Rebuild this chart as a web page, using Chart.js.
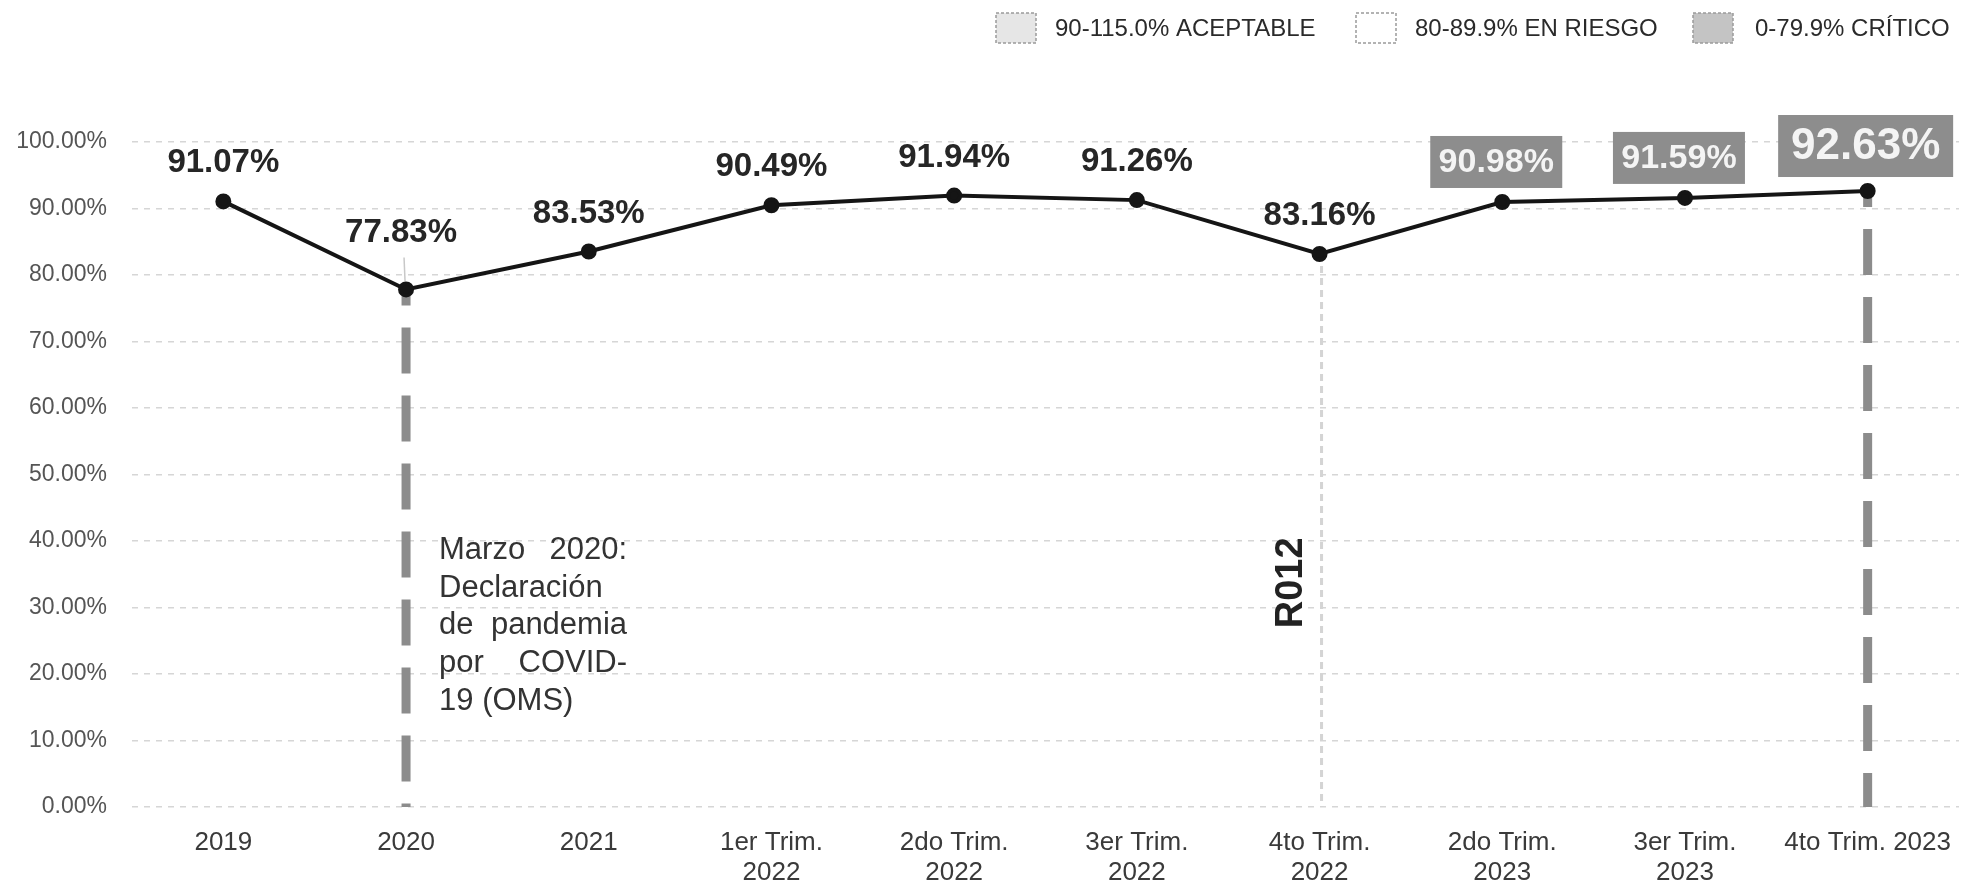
<!DOCTYPE html>
<html>
<head>
<meta charset="utf-8">
<script src="https://cdn.jsdelivr.net/npm/chart.js@4.4.1/dist/chart.umd.min.js"></script>
<style>
  html, body { margin: 0; padding: 0; background: #ffffff; overflow: hidden; }
  #wrap { width: 1969px; height: 885px; position: relative; }
  #c { display: block; }
</style>
</head>
<body>
<div id="wrap"><canvas id="c"></canvas></div>
<script>
// ---- data ----
const categories = [
  '2019', '2020', '2021',
  ['1er Trim.', '2022'], ['2do Trim.', '2022'], ['3er Trim.', '2022'], ['4to Trim.', '2022'],
  ['2do Trim.', '2023'], ['3er Trim.', '2023'], '4to Trim. 2023'
];
const values = [91.07, 77.83, 83.53, 90.49, 91.94, 91.26, 83.16, 90.98, 91.59, 92.63];
const yTicks = [0, 10, 20, 30, 40, 50, 60, 70, 80, 90, 100];
const legendLabels = ['90-115.0% ACEPTABLE', '80-89.9% EN RIESGO', '0-79.9% CRÍTICO'];
const annotationLines = ['Marzo 2020:', 'Declaración', 'de pandemia', 'por COVID-', '19 (OMS)'];
const markerLabel = 'R012';

const SANS = "'Liberation Sans', Arial, Helvetica, sans-serif";

const overlay = {
  id: 'overlay',
  beforeDatasetsDraw(chart) {
    const ctx = chart.ctx;
    const ys = chart.scales.y;
    const meta = chart.getDatasetMeta(0);
    const bottom = ys.getPixelForValue(0);
    ctx.save();
    // faint line at 4to Trim. 2022
    const p6 = meta.data[6];
    ctx.strokeStyle = '#d4d4d4';
    ctx.lineWidth = 3;
    ctx.setLineDash([7, 5]);
    ctx.beginPath(); ctx.moveTo(p6.x + 2, p6.y); ctx.lineTo(p6.x + 2, bottom); ctx.stroke();
    // thick dashed lines at 2020 and 4to Trim. 2023
    [1, 9].forEach(i => {
      const p = meta.data[i];
      ctx.strokeStyle = '#8c8c8c';
      ctx.lineWidth = 9;
      ctx.setLineDash([46, 22]);
      ctx.lineDashOffset = 30;
      ctx.beginPath(); ctx.moveTo(p.x, p.y); ctx.lineTo(p.x, bottom); ctx.stroke();
    });
    ctx.setLineDash([]);
    // leader line for 2020 label
    const p1 = meta.data[1];
    ctx.strokeStyle = '#c8c8c8'; ctx.lineWidth = 1.5;
    ctx.beginPath(); ctx.moveTo(p1.x - 2, p1.y - 32); ctx.lineTo(p1.x - 1, p1.y - 8); ctx.stroke();
    ctx.restore();
  },
  afterDatasetsDraw(chart) {
    const ctx = chart.ctx;
    const ys = chart.scales.y;
    const meta = chart.getDatasetMeta(0);
    ctx.save();
    ctx.textAlign = 'center';
    ctx.textBaseline = 'middle';
    values.forEach((v, i) => {
      const p = meta.data[i];
      const txt = v.toFixed(2) + '%';
      if (i >= 7) {
        const big = (i === 9);
        const w = big ? 175 : 132;
        const h = big ? 62 : 52;
        const cx = p.x - (big ? 2 : 6);
        const cy = p.y - (big ? 45 : 40);
        ctx.fillStyle = '#8d8d8d';
        ctx.fillRect(cx - w / 2, cy - h / 2, w, h);
        ctx.fillStyle = '#f4f4f4';
        ctx.font = 'bold ' + (big ? 44 : 34) + 'px ' + SANS;
        ctx.fillText(txt, cx, cy + 1);
      } else {
        ctx.fillStyle = '#262626';
        ctx.font = 'bold 33px ' + SANS;
        const off = (i === 1) ? 57 : 38;
        ctx.fillText(txt, p.x - (i === 1 ? 5 : 0), p.y - off);
      }
    });

    // annotation (justified block)
    const p1 = meta.data[1];
    const ax = p1.x + 33, aw = 188;
    let ay = ys.getPixelForValue(38.6);
    ctx.font = '31px ' + SANS;
    ctx.fillStyle = '#333333';
    ctx.textAlign = 'left';
    annotationLines.forEach((line, li) => {
      const words = line.split(' ');
      if (li < annotationLines.length - 1 && words.length > 1) {
        const tw = words.reduce((s, w) => s + ctx.measureText(w).width, 0);
        const gap = Math.max(8, (aw - tw) / (words.length - 1));
        let x = ax;
        words.forEach(w => { ctx.fillText(w, x, ay); x += ctx.measureText(w).width + gap; });
      } else {
        ctx.fillText(line, ax, ay);
      }
      ay += 37.7;
    });

    // R012 rotated marker
    const p6 = meta.data[6];
    ctx.save();
    ctx.translate(p6.x - 28, ys.getPixelForValue(33.7));
    ctx.rotate(-Math.PI / 2);
    ctx.textAlign = 'center';
    ctx.textBaseline = 'middle';
    ctx.font = 'bold 38px ' + SANS;
    ctx.fillStyle = '#222222';
    ctx.fillText(markerLabel, 0, 0);
    ctx.restore();

    // legend
    const boxX = [996, 1356, 1693];
    const txtX = [1055, 1415, 1755];
    const fills = ['#e6e6e6', '#ffffff', '#c4c4c4'];
    ctx.font = '24px ' + SANS;
    ctx.textBaseline = 'middle';
    ctx.textAlign = 'left';
    legendLabels.forEach((lab, i) => {
      ctx.fillStyle = fills[i];
      ctx.fillRect(boxX[i], 13, 40, 30);
      ctx.strokeStyle = '#9a9a9a';
      ctx.lineWidth = 1.5;
      ctx.setLineDash([3, 2]);
      ctx.strokeRect(boxX[i], 13, 40, 30);
      ctx.setLineDash([]);
      ctx.fillStyle = '#2a2a2a';
      ctx.fillText(lab, txtX[i], 29);
    });
    ctx.restore();
  }
};

new Chart(document.getElementById('c'), {
  type: 'line',
  data: {
    labels: categories,
    datasets: [{
      data: values,
      borderColor: '#151515',
      backgroundColor: '#151515',
      borderWidth: 4,
      pointRadius: 6,
      pointHoverRadius: 6,
      pointBackgroundColor: '#151515',
      pointBorderColor: '#151515',
      tension: 0
    }]
  },
  options: {
    responsive: true,
    maintainAspectRatio: false,
    animation: false,
    devicePixelRatio: 1,
    layout: { padding: { top: 142, right: -7, left: 0, bottom: 0 } },
    plugins: { legend: { display: false }, tooltip: { enabled: false } },
    scales: {
      x: {
        offset: true,
        afterFit(s) { s.height = 78; s.paddingLeft = 0; s.paddingRight = 0; },
        grid: { display: false, drawTicks: false, offset: true },
        border: { display: false },
        ticks: {
          color: '#3a3a3a',
          font: { family: SANS, size: 26, lineHeight: 1.18 },
          padding: 20,
          maxRotation: 0,
          autoSkip: false
        }
      },
      y: {
        min: 0, max: 100,
        afterFit(s) { s.width = 132; },
        afterBuildTicks(s) { s.ticks = yTicks.map(v => ({ value: v })); },
        grid: { color: '#d6d6d6', lineWidth: 1.5, drawTicks: false },
        border: { display: false, dash: [6, 6] },
        ticks: {
          color: '#555555',
          font: { family: SANS, size: 23 },
          padding: 25,
          callback: v => Number(v).toFixed(2) + '%'
        }
      }
    }
  },
  plugins: [overlay]
});
</script>
</body>
</html>
